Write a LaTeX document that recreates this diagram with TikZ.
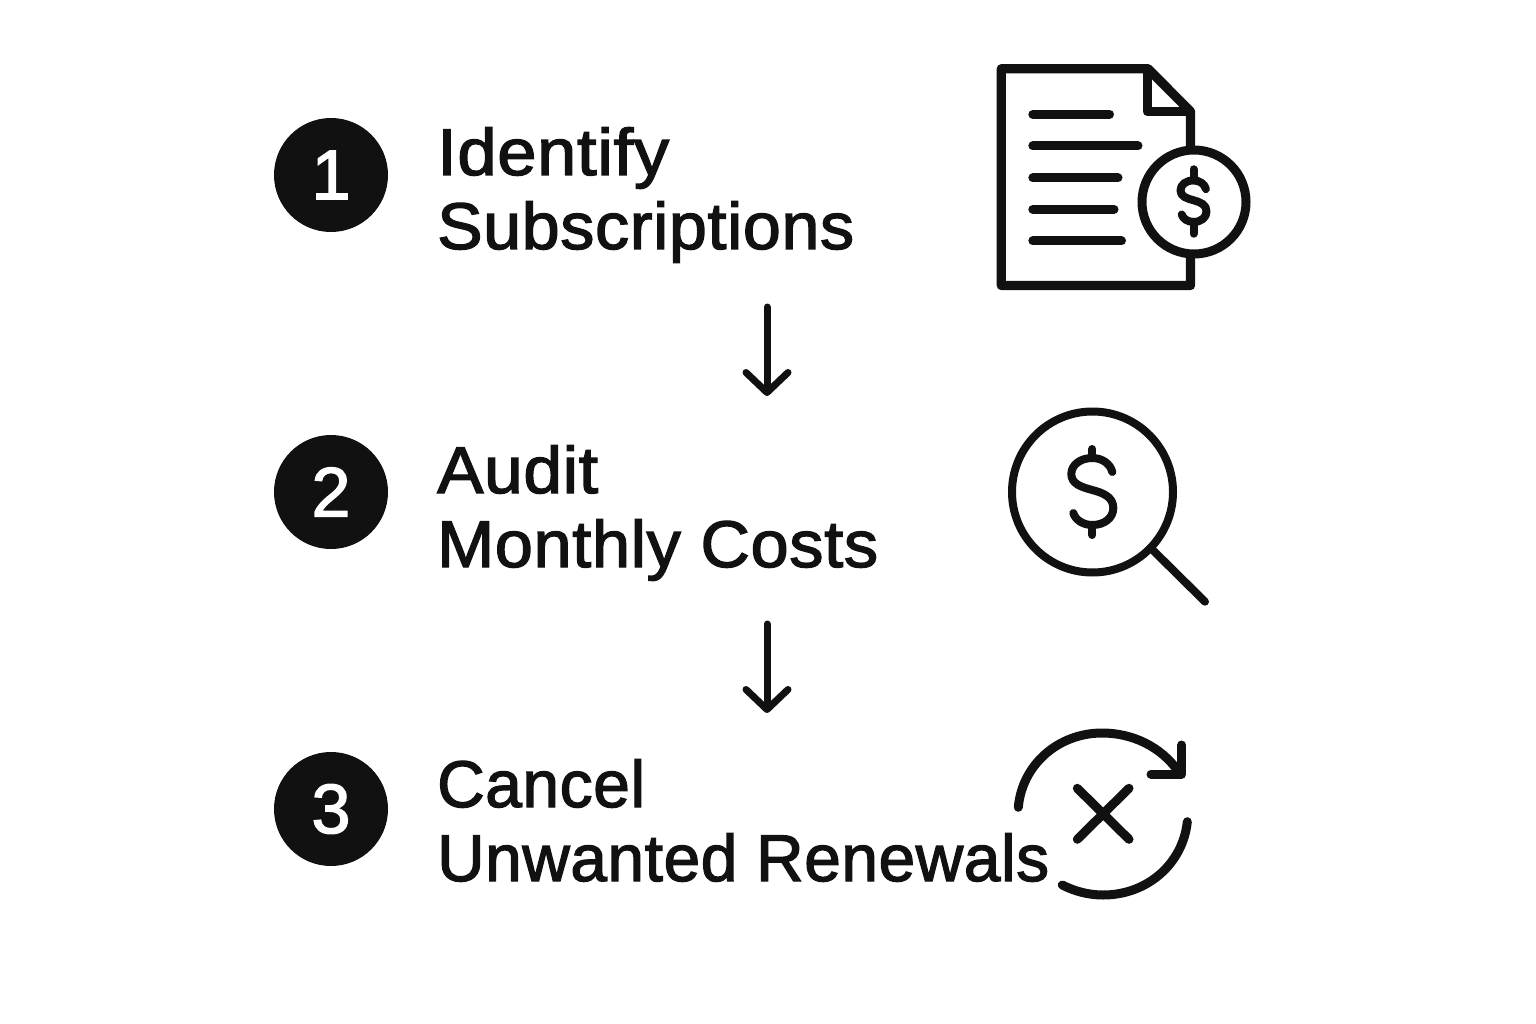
\documentclass[tikz,border=0pt]{standalone}
\usepackage{fontspec}
\usepackage{graphicx}
\setmainfont{Liberation Sans}
\newfontfamily\labelfont{Liberation Sans}[FakeBold=2,LetterSpace=1]
\newfontfamily\digitfont{Liberation Sans}[FakeBold=2]
\usetikzlibrary{arrows.meta}
\definecolor{ink}{HTML}{111111}
% x, y, scale, line width, half length of the bar
\newcommand{\dollarsign}[5]{%
\begin{scope}[shift={(#1,#2)},scale=#3,line width=#4,icon]
\draw (20,-20) .. controls (18,-28) and (10,-34) .. (0,-34) .. controls (-12,-34) and (-21,-27) .. (-21,-18) .. controls (-21,-8) and (-11,-5) .. (0,-2) .. controls (11,1) and (21,5) .. (21,16) .. controls (21,26) and (12,33) .. (0,33) .. controls (-9,33) and (-17,28) .. (-19,21);
\draw (0,-#5) -- (0,-34) (0,33) -- (0,#5);
\end{scope}}
\newcommand{\fitw}[2]{\resizebox{#1pt}{\height}{#2}}
\tikzset{
 x=1pt,y=-1pt,
 icon/.style={draw=ink,line cap=round,line join=round},
 badge/.style={circle,fill=ink,text=white,minimum size=114pt,inner sep=0pt,font=\digitfont\fontsize{70}{70}\selectfont},
 label/.style={anchor=base west,inner sep=0pt,text=ink,font=\labelfont\fontsize{66}{66}\selectfont},
 flow/.style={draw=ink,line width=7pt,line cap=round,-{Straight Barb[length=20pt,width=42pt,round]}},
}
\begin{document}
\begin{tikzpicture}
\useasboundingbox[fill=white] (0,0) rectangle (1536,1024);
\node[badge] (b1) at (331,175) {1};
\node[badge] (b2) at (331,492) {2};
\node[badge] (b3) at (331,809) {3};
\node[label] (t1a) at (437,175) {\fitw{232}{Identify}};
\node[label] (t1b) at (437,249) {\fitw{417}{Subscriptions}};
\node[label] (t2a) at (437,493) {\fitw{161}{Audit}};
\node[label] (t2b) at (437,567) {\fitw{441}{Monthly Costs}};
\node[label] (t3a) at (437,807) {\fitw{208}{Cancel}};
\node[label] (t3b) at (437,881) {\fitw{612}{Unwanted Renewals}};
\coordinate (a1s) at (767,307);
\coordinate (a1e) at (767,396);
\coordinate (a2s) at (767,624);
\coordinate (a2e) at (767,713);
\draw[flow] (a1s) -- (a1e);
\draw[flow] (a2s) -- (a2e);
% document icon
\draw[icon,line width=9.3pt] (1190.5,147) -- (1190.5,111.5) -- (1148,68.7) -- (1001.3,68.7) -- (1001.3,285.5) -- (1190.5,285.5) -- (1190.5,258);
\draw[icon,line width=9pt] (1147,68.7) -- (1147,111.5) -- (1190.5,111.5);
\draw[icon,line width=9pt] (1032.8,114.3) -- (1109.5,114.3) (1032.8,146) -- (1138,146) (1032.8,178) -- (1118,178) (1032.8,209.3) -- (1114,209.3) (1032.8,241) -- (1121.5,241);
\draw[icon,line width=9pt] (1194,202) circle (52);
\dollarsign{1193.5}{201.5}{0.62}{8pt}{52}
% magnifier
\draw[icon,line width=8pt] (1092.5,492) circle (80.5);
\draw[icon,line width=8pt] (1151.7,549) -- (1205,601.7);
\dollarsign{1092.3}{492}{1}{8pt}{43}
% cancel
\draw[icon,line width=9pt] (1018.3,807.3) .. controls (1022,765) and (1058,733) .. (1102,733) .. controls (1133,733) and (1161,747) .. (1178,771);
\draw[icon,line width=9pt] (1181.7,745) -- (1181.7,774.3) -- (1151,774.3);
\draw[icon,line width=9pt] (1187.3,821.7) .. controls (1183,863) and (1148,895) .. (1103,895) .. controls (1088,895) and (1074,891) .. (1062.3,885);
\draw[icon,line width=9pt] (1077.3,788.3) -- (1129,839.3) (1129,788.3) -- (1077.3,839.3);
\end{tikzpicture}
\end{document}
